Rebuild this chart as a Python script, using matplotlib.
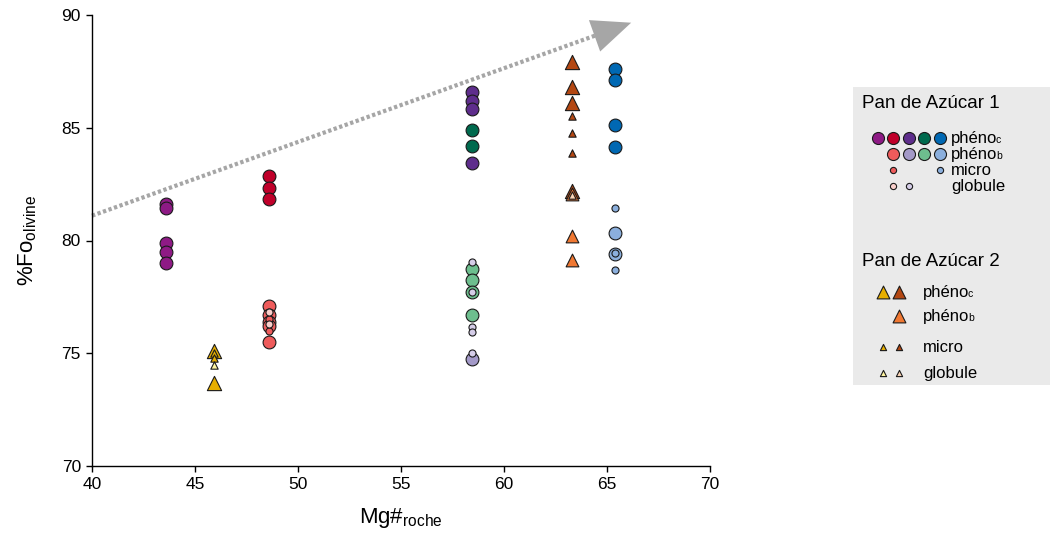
import matplotlib
matplotlib.use("Agg")
import matplotlib.pyplot as plt

plt.rcParams['font.family'] = ['Liberation Sans', 'DejaVu Sans']
plt.rcParams['mathtext.fontset'] = 'custom'
plt.rcParams['mathtext.rm'] = 'Liberation Sans'

# Mg# of each rock (x position of each column)
MG_A = 43.6
MG_B = 45.9
MG_C = 48.6
MG_D = 58.45
MG_E = 63.3
MG_F = 65.4

# %Fo values, Pan de Azucar 1 (circles)
p1_c_magenta = [81.6, 81.45, 79.9, 79.5, 79.0]
p1_c_red = [82.85, 82.35, 81.85]
p1_b_coral = [77.1, 76.7, 76.4, 76.2, 75.5]
p1_micro_coral = [76.5, 76.0]
p1_glob_pink = [76.85, 76.3]
p1_c_purple = [86.6, 86.2, 85.85, 83.45]
p1_c_green = [84.9, 84.2]
p1_b_green = [78.75, 78.25, 77.7, 76.7]
p1_b_lav = [74.75]
p1_glob_lav = [79.05, 77.7, 76.15, 75.95, 75.0]
p1_c_blue = [87.6, 87.1, 85.1, 84.15]
p1_b_blue = [80.35, 79.4]
p1_micro_blue = [81.45, 79.45, 78.7]

# %Fo values, Pan de Azucar 2 (triangles)
p2_c_yellow = [75.1, 73.7]
p2_micro_yellow = [75.0, 74.8]
p2_glob_yellow = [74.5]
p2_c_brown = [87.9, 86.8, 86.1, 82.2]
p2_b_orange = [82.05, 80.2, 79.15]
p2_micro_brown = [85.5, 84.75, 83.9]
p2_glob_peach = [82.0]

ARROW_START = (40, 81.1)
ARROW_END = (66.3, 89.7)

MAGENTA = '#8e1a85'
RED = '#c0002a'
PURPLE = '#5e2d8c'
DGREEN = '#006a4e'
BLUE = '#0068b3'
CORAL = '#ee5b5b'
LAV = '#a399c8'
LGREEN = '#6dbe8e'
LBLUE = '#8bafdd'
PINK = '#f9cfcb'
LLAV = '#d5cde8'
YELLOW = '#e6ae00'
BROWN = '#b34712'
ORANGE = '#f07832'
LYELLOW = '#fff5a0'
PEACH = '#fad4b5'

BIG = 85
SMALL = 26
TBIG = 105
TSMALL = 28
EDGE = dict(edgecolors='#1a1a1a', linewidths=0.8)

fig = plt.figure(figsize=(10.5, 5.38), dpi=100)
ax = fig.add_axes([92 / 1050, 72 / 538, 618 / 1050, 451 / 538])


def col(x, vals, color, size, marker='o'):
    ax.scatter([x] * len(vals), vals, s=size, c=color, marker=marker, zorder=3, **EDGE)


# phenocrysts (core) first, then rims, micro and globules on top
col(MG_A, p1_c_magenta, MAGENTA, BIG)
col(MG_C, p1_c_red, RED, BIG)
col(MG_D, p1_c_purple, PURPLE, BIG)
col(MG_D, p1_c_green, DGREEN, BIG)
col(MG_F, p1_c_blue, BLUE, BIG)
col(MG_B, p2_c_yellow, YELLOW, TBIG, '^')
col(MG_E, p2_c_brown, BROWN, TBIG, '^')

col(MG_C, p1_b_coral, CORAL, BIG)
col(MG_D, p1_b_green, LGREEN, BIG)
col(MG_D, p1_b_lav, LAV, BIG)
col(MG_F, p1_b_blue, LBLUE, BIG)
col(MG_E, p2_b_orange, ORANGE, TBIG * 0.8, '^')

col(MG_C, p1_micro_coral, CORAL, SMALL)
col(MG_F, p1_micro_blue, LBLUE, SMALL)
col(MG_B, p2_micro_yellow, YELLOW, TSMALL, '^')
col(MG_E, p2_micro_brown, BROWN, TSMALL, '^')

col(MG_C, p1_glob_pink, PINK, SMALL)
col(MG_D, p1_glob_lav, LLAV, SMALL)
col(MG_B, p2_glob_yellow, LYELLOW, TSMALL, '^')
col(MG_E, p2_glob_peach, PEACH, TSMALL, '^')

# trend arrow
frac = 0.955
mid = (ARROW_START[0] + frac * (ARROW_END[0] - ARROW_START[0]),
       ARROW_START[1] + frac * (ARROW_END[1] - ARROW_START[1]))
ax.plot([ARROW_START[0], mid[0]], [ARROW_START[1], mid[1]], color='#a6a6a6',
        lw=3, ls=(0, (0.8, 0.6)), solid_capstyle='butt', zorder=2, clip_on=False)
back = (ARROW_START[0] + 0.93 * (ARROW_END[0] - ARROW_START[0]),
        ARROW_START[1] + 0.93 * (ARROW_END[1] - ARROW_START[1]))
ax.annotate('', xy=ARROW_END, xytext=back, annotation_clip=False,
            arrowprops=dict(arrowstyle='-|>,head_length=1.4,head_width=0.6',
                            color='#a6a6a6', lw=0, mutation_scale=20))

ax.set_xlim(40, 70)
ax.set_ylim(70, 90)
ax.set_xticks(range(40, 71, 5))
ax.set_yticks(range(70, 91, 5))
for s in ['top', 'right']:
    ax.spines[s].set_visible(False)
for s in ['left', 'bottom']:
    ax.spines[s].set_linewidth(1.0)
ax.tick_params(direction='out', length=4, width=1.0, labelsize=12.5, pad=4)
ax.set_xlabel('Mg#$_{\\mathrm{roche}}$', fontsize=16, labelpad=10)
ax.set_ylabel('%Fo$_{\\mathrm{olivine}}$', fontsize=16, labelpad=16)

# custom legend panel
lax = fig.add_axes([853 / 1050, (538 - 385) / 538, 197 / 1050, 298 / 538])
lax.set_xlim(853, 1050)
lax.set_ylim(385, 87)
lax.set_facecolor('#eaeaea')
for s in lax.spines.values():
    s.set_visible(False)
lax.set_xticks([])
lax.set_yticks([])


def leg(x, y, color, size, marker='o'):
    lax.scatter([x], [y], s=size, c=color, marker=marker, clip_on=False, **EDGE)


def label(x, y, word, sub=None):
    # baseline placed a bit below the marker centre
    lax.text(x, y + 5, word, fontsize=12, va='baseline')
    if sub:
        lax.text(x + 45, y + 5, sub, fontsize=7.5, va='baseline')


lax.text(862, 103, 'Pan de Azúcar 1', fontsize=13.5, va='center')
for x, c in zip([878, 893, 909, 924, 940], [MAGENTA, RED, PURPLE, DGREEN, BLUE]):
    leg(x, 138, c, 75)
for x, c in zip([893, 909, 924, 940], [CORAL, LAV, LGREEN, LBLUE]):
    leg(x, 154, c, 75)
leg(893, 170, CORAL, 20)
leg(940, 170, LBLUE, 20)
leg(893, 186, PINK, 20)
leg(909, 186, LLAV, 20)
label(951, 138, 'phéno', 'c')
label(951, 154, 'phéno', 'b')
label(951, 170, 'micro')
label(951, 186, 'globule')

lax.text(862, 261, 'Pan de Azúcar 2', fontsize=13.5, va='center')
leg(883, 292, YELLOW, 85, '^')
leg(899, 292, BROWN, 85, '^')
leg(899, 316, ORANGE, 85, '^')
leg(883, 347, YELLOW, 20, '^')
leg(899, 347, BROWN, 20, '^')
leg(883, 373, LYELLOW, 20, '^')
leg(899, 373, PEACH, 20, '^')
label(923, 292, 'phéno', 'c')
label(923, 316, 'phéno', 'b')
label(923, 347, 'micro')
label(923, 373, 'globule')

fig.savefig('out.png', dpi=100)
